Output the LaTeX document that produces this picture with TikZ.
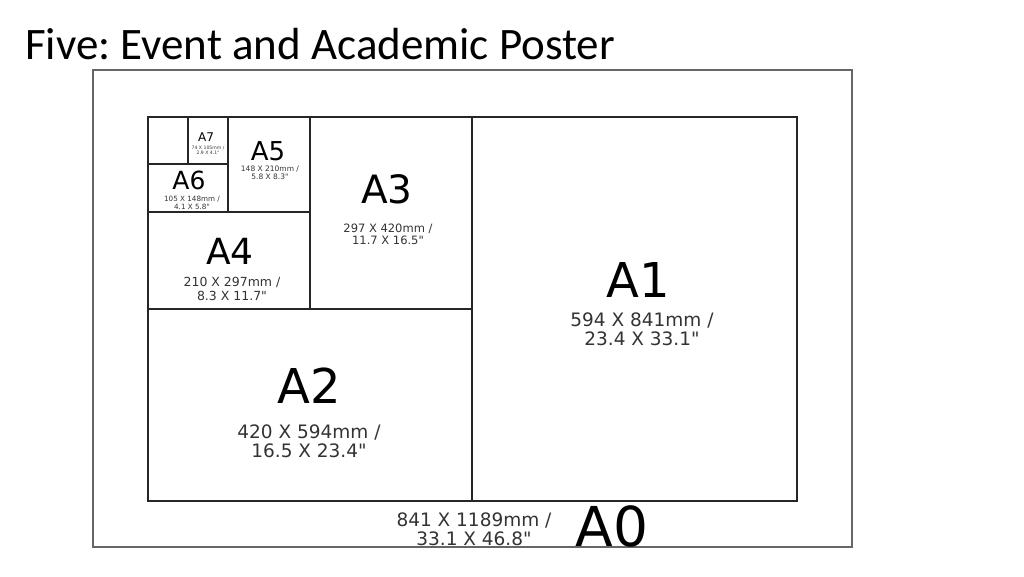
\documentclass[tikz,border=0pt]{standalone}
\usepackage{fontspec}
\setmainfont{DejaVu Sans}[Ligatures=TeXOff]
\newfontfamily\titlefont{Carlito}
\newcommand{\fsz}[1]{\fontsize{#1}{1.05\dimexpr#1pt\relax}\selectfont}
\frenchspacing

\begin{document}
\begin{tikzpicture}[x=1pt, y=-1pt,
    sheet/.style={draw=black!85, line width=1.5pt},
    paper/.style={inner sep=0pt, text=black},
    dims/.style={inner sep=0pt, align=center, text=black!80}]
        \useasboundingbox (0,0) rectangle (1024,576);

        % Title
        \node[anchor=base west, inner sep=0pt] (title) at (25,59) {\titlefont\fsz{45}Five: Event and Academic Poster};

        % A0 frame
        \draw[draw=black!60, line width=1.8pt] (93,547) -- (93,70) -- (852,70) -- (852,547) -- cycle;

        % Sheets
        \draw[sheet] (148,117) rectangle (797,501);
        \draw[sheet] (472,117) -- (472,501);
        \draw[sheet] (148,309) -- (472,309);
        \draw[sheet] (310,117) -- (310,309);
        \draw[sheet] (148,212) -- (310,212);
        \draw[sheet] (228,117) -- (228,212);
        \draw[sheet] (148,164) -- (228,164);
        \draw[sheet] (188,117) -- (188,164);

        % Sizes
        \node[paper, font=\fsz{48}] (a1) at (638,280) {A1};
        \node[dims, font=\fsz{18.5}] (a1d) at (642,329) {594 X 841mm /\\23.4 X 33.1"};

        \node[paper, font=\fsz{48}] (a2) at (309,386) {A2};
        \node[dims, font=\fsz{18.5}] (a2d) at (309,441) {420 X 594mm /\\16.5 X 23.4"};

        \node[paper, font=\fsz{39}] (a3) at (387,189) {A3};
        \node[dims, font=\fsz{11.5}] (a3d) at (388,234) {297 X 420mm /\\11.7 X 16.5"};

        \node[paper, font=\fsz{36}] (a4) at (230,251) {A4};
        \node[dims, font=\fsz{12.5}] (a4d) at (232,289) {210 X 297mm /\\8.3 X 11.7"};

        \node[paper, font=\fsz{26}] (a5) at (268,151) {A5};
        \node[dims, font=\fsz{7.5}] (a5d) at (270,173) {148 X 210mm /\\5.8 X 8.3"};

        \node[paper, font=\fsz{25}] (a6) at (189,180) {A6};
        \node[dims, font=\fsz{7.2}] (a6d) at (192,203) {105 X 148mm /\\4.1 X 5.8"};

        \node[paper, font=\fsz{12}] (a7) at (206,137) {A7};
        \node[dims, font=\fsz{4.6}] (a7d) at (208,150) {74 X 105mm /\\2.9 X 4.1"};

        \node[paper, font=\fsz{55}] (a0) at (612,526) {A0};
        \node[dims, font=\fsz{18.5}] (a0d) at (474,529) {841 X 1189mm /\\33.1 X 46.8"};
\end{tikzpicture}
\end{document}
